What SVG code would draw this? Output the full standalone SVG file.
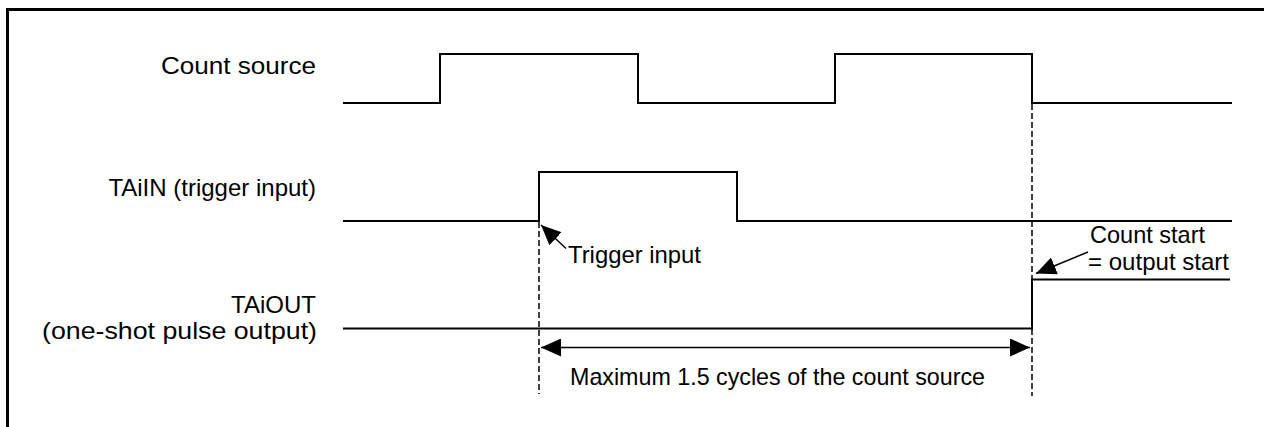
<svg xmlns="http://www.w3.org/2000/svg" width="1264" height="427" viewBox="0 0 1264 427">
<defs>
<style>
.sig{fill:none;stroke:#000;stroke-width:2}
.dash{fill:none;stroke:#000;stroke-width:1.5;stroke-dasharray:6 3}
.ln{fill:none;stroke:#000;stroke-width:1.5}
text{font-family:"Liberation Sans",Arial,sans-serif;font-size:24px;fill:#000}
.r{text-anchor:end}
</style>
<marker id="ah" viewBox="0 0 20 18" refX="20" refY="9" markerWidth="20" markerHeight="18" markerUnits="userSpaceOnUse" orient="auto-start-reverse">
<path d="M0,0 L20,9 L0,18 Z" fill="#000"/>
</marker>
</defs>
<rect width="1264" height="427" fill="#fff"/>
<path d="M7.5,427 V9.5 H1264" fill="none" stroke="#000" stroke-width="3"/>
<g id="label-count-source"><text x="161" y="74" textLength="155" lengthAdjust="spacingAndGlyphs">Count source</text></g>
<g id="label-taiin"><text class="r" x="316" y="196">TAiIN (trigger input)</text></g>
<g id="label-taiout"><text class="r" x="316" y="313">TAiOUT</text><text x="42" y="339" textLength="275" lengthAdjust="spacingAndGlyphs">(one-shot pulse output)</text></g>
<g id="sig-count-source"><path class="sig" d="M343,103 H440 V54 H638 V103 H835 V54 H1032 V103 H1232"/></g>
<g id="sig-taiin"><path class="sig" d="M343,221 H539 V172 H737 V221 H1232"/></g>
<g id="sig-taiout"><path class="sig" d="M343,328.5 H1032 V279.5 H1230"/></g>
<g id="connectors">
<path class="dash" d="M539,222 V394"/>
<path class="dash" d="M1032,104 V396"/>
<path class="ln" d="M541,347.5 H1030" marker-start="url(#ah)" marker-end="url(#ah)"/>
<path class="ln" d="M566,248.5 L541,225" marker-end="url(#ah)"/>
<path class="ln" d="M1088,252 L1036,273.5" marker-end="url(#ah)"/>
</g>
<g id="label-trigger"><text x="568" y="263" textLength="133" lengthAdjust="spacingAndGlyphs">Trigger input</text></g>
<g id="label-count-start"><text x="1090" y="243" textLength="115" lengthAdjust="spacingAndGlyphs">Count start</text><text x="1088" y="270" textLength="141" lengthAdjust="spacingAndGlyphs">= output start</text></g>
<g id="label-max"><text x="570" y="385" textLength="415" lengthAdjust="spacingAndGlyphs">Maximum 1.5 cycles of the count source</text></g>
</svg>
